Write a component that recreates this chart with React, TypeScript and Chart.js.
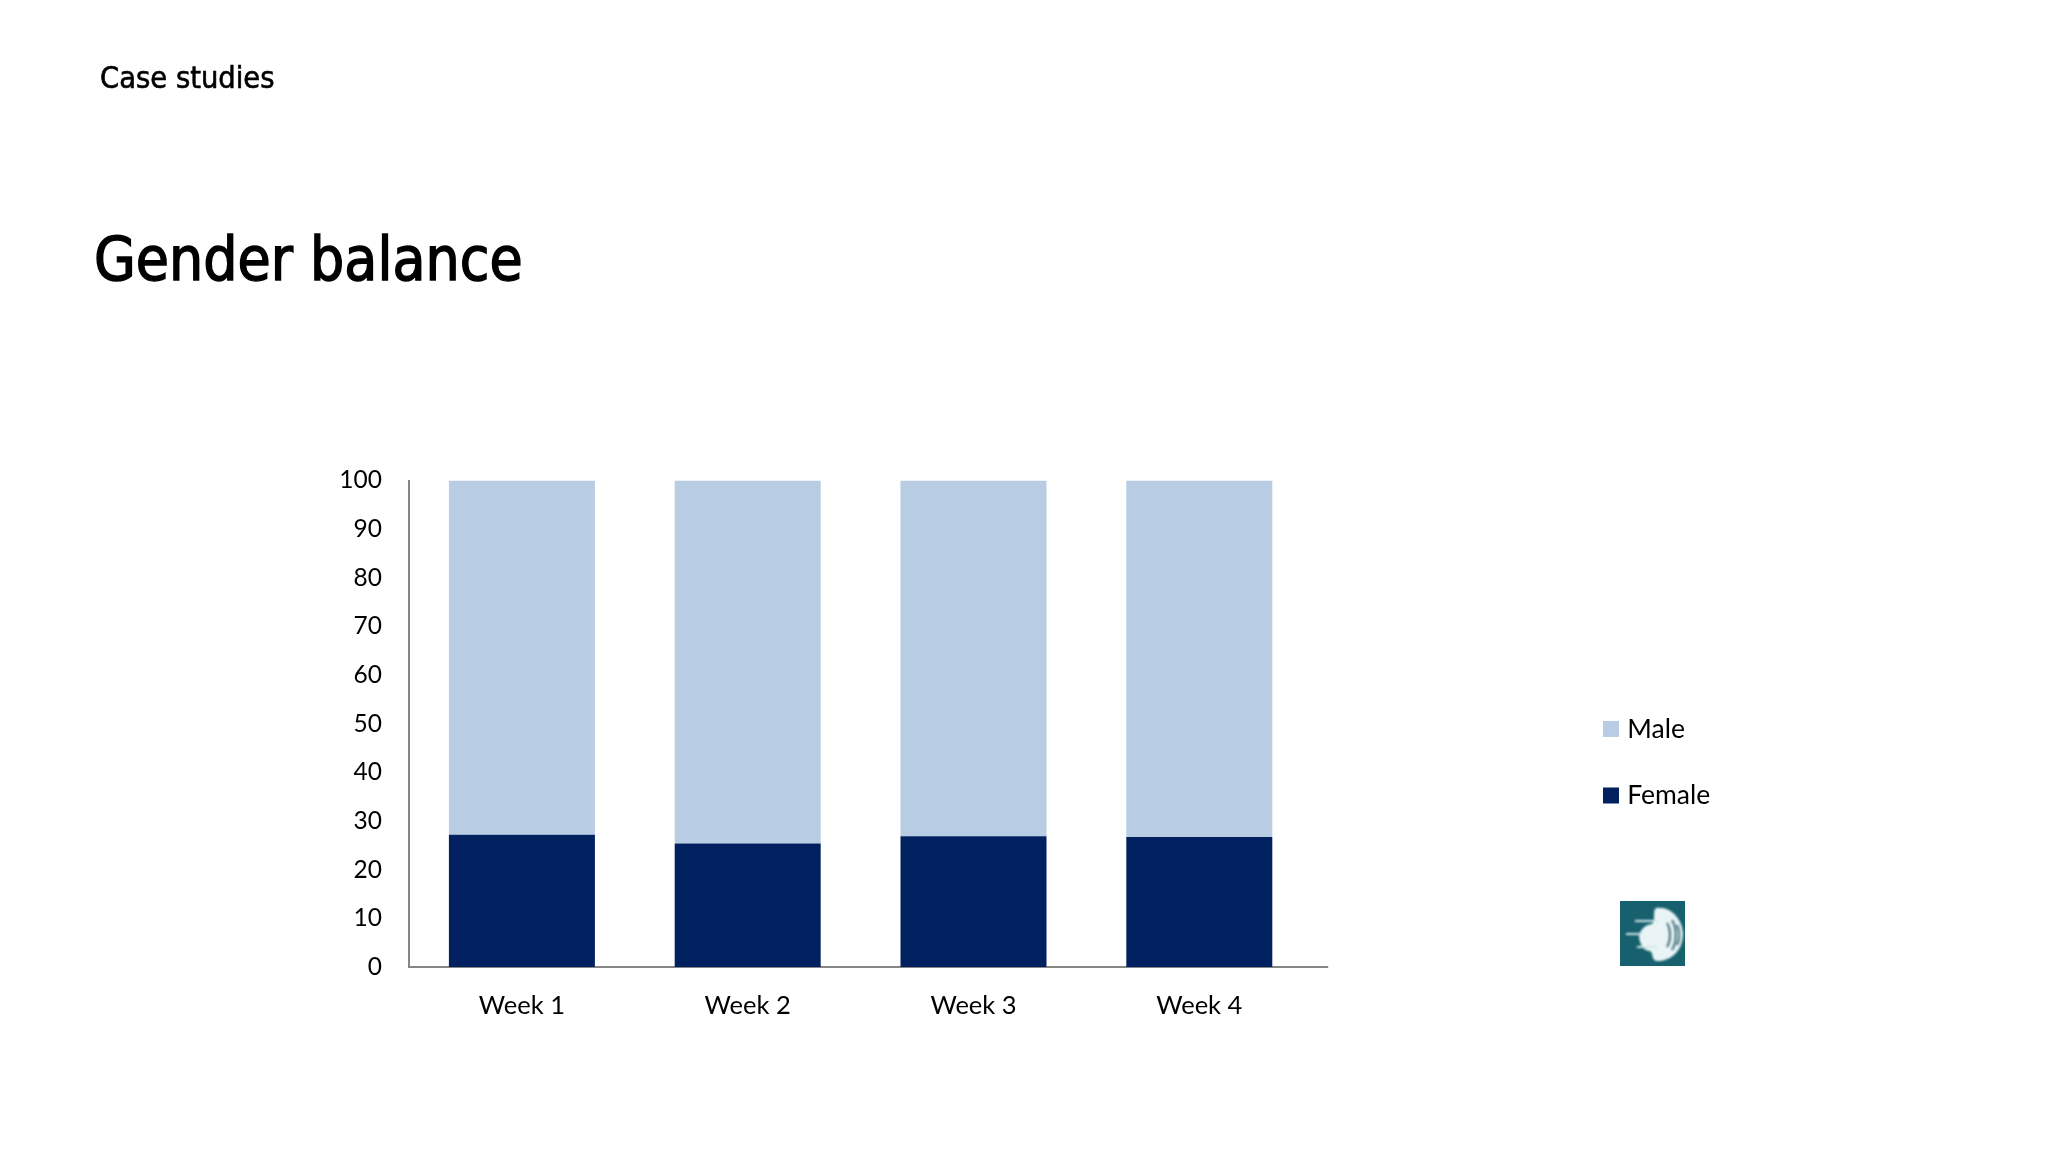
import { useEffect, useRef } from "react";
import { Chart, registerables } from "chart.js";

Chart.register(...registerables);

const weeks = ["Week 1", "Week 2", "Week 3", "Week 4"];
const female = [27.2, 25.4, 26.9, 26.7];
const male = [72.8, 74.6, 73.1, 73.3];

const AXIS_GREY = "#868686";
const LEGEND_PADDING = 40;

// The x axis line runs a little past the last category in the original
const axisTail = {
  id: "axisTail",
  afterDraw(chart: Chart) {
    const { ctx, chartArea } = chart;
    ctx.save();
    ctx.strokeStyle = AXIS_GREY;
    ctx.lineWidth = 2;
    ctx.beginPath();
    ctx.moveTo(chartArea.right - 1, chartArea.bottom);
    ctx.lineTo(chartArea.right + 16, chartArea.bottom);
    ctx.stroke();
    ctx.restore();
  },
};

// Legend sits far off to the right of the plot, so move it there after layout
const legendPlacer = {
  id: "legendPlacer",
  afterLayout(chart: any) {
    const legend = chart.legend;
    legend.left = 1608 - LEGEND_PADDING;
    legend.right = 1900;
    legend.top = 715.75 - LEGEND_PADDING;
    legend.bottom = 850;
  },
};

const headingStyle: React.CSSProperties = {
  position: "absolute",
  fontFamily: "'DejaVu Sans Condensed', 'DejaVu Sans'",
  fontStretch: "condensed",
  color: "#000",
  whiteSpace: "nowrap",
  lineHeight: 1,
};

const GenderChart = () => {
  const canvasRef = useRef<HTMLCanvasElement>(null);

  useEffect(() => {
    if (!canvasRef.current) return;

    const chart = new Chart(canvasRef.current, {
      type: "bar",
      data: {
        labels: weeks,
        datasets: [
          { label: "Female", data: female, backgroundColor: "#002060" },
          { label: "Male", data: male, backgroundColor: "#B8CCE4" },
        ],
      },
      options: {
        responsive: false,
        animation: false,
        layout: { padding: { left: 300, right: 735.8, top: 480.5, bottom: 125 } },
        datasets: { bar: { categoryPercentage: 1, barPercentage: 0.6466 } },
        plugins: {
          title: { display: false },
          tooltip: { enabled: false },
          legend: {
            position: "chartArea",
            align: "start",
            reverse: true,
            labels: {
              // small box with a thick border of the same colour, keeps the text close to it
              boxWidth: 6,
              boxHeight: 6,
              padding: LEGEND_PADDING,
              color: "#000",
              font: { family: "Lato", size: 26.5 },
              generateLabels: (c) =>
                Chart.defaults.plugins.legend.labels
                  .generateLabels(c)
                  .map((item) => ({ ...item, lineWidth: 10, strokeStyle: item.fillStyle })),
            },
          },
        },
        scales: {
          x: {
            stacked: true,
            grid: { display: false, drawTicks: false },
            border: { color: AXIS_GREY, width: 2 },
            ticks: { color: "#000", font: { family: "Lato", size: 25.5 }, padding: 23 },
            afterFit: (scale) => {
              scale.height = 60;
            },
          },
          y: {
            stacked: true,
            min: 0,
            max: 100,
            grid: { display: false, drawTicks: false },
            border: { color: AXIS_GREY, width: 2 },
            ticks: { color: "#000", font: { family: "Lato", size: 24.5 }, stepSize: 10, padding: 27 },
            afterFit: (scale) => {
              scale.width = 109;
            },
          },
        },
      },
      plugins: [axisTail, legendPlacer],
    });

    return () => chart.destroy();
  }, []);

  return <canvas ref={canvasRef} width={2048} height={1152} style={{ display: "block" }} />;
};

// Small teal logo under the legend
const Logo = () => (
  <svg
    width={65}
    height={65}
    viewBox="0 0 65 65"
    style={{ position: "absolute", left: 1620, top: 901 }}
  >
    <rect width={65} height={65} fill="#17616E" />
    <g style={{ filter: "blur(0.8px)" }}>
      <path
        d="M36 7 C52 5 63 20 63 33 C63 48 52 61 36 60 C31 58 34 53 30 50 C24 50 20 44 19 36 C20 28 25 24 32 23 C36 20 32 10 36 7 Z"
        fill="#EAF4F6"
      />
      <path
        d="M47 22 C51 28 51 40 47 46 M52 19 C57 27 57 41 52 49 M57 24 C60 30 60 38 57 44"
        fill="none"
        stroke="#4A7781"
        strokeWidth={2.2}
      />
      <path
        d="M15 20 H38 M6 33 H22 M17 46 H38"
        fill="none"
        stroke="#D5E8EB"
        strokeWidth={2}
      />
    </g>
  </svg>
);

export default function App() {
  return (
    <div style={{ position: "absolute", left: 0, top: 0, width: 2048, height: 1152, background: "#fff", overflow: "hidden" }}>
      <GenderChart />
      <div style={{ ...headingStyle, left: 100, top: 63, fontSize: 30.5, WebkitTextStroke: "0.6px #000" }}>Case studies</div>
      <div style={{ ...headingStyle, left: 94, top: 229, fontSize: 60, WebkitTextStroke: "1.4px #000" }}>Gender balance</div>
      <Logo />
    </div>
  );
}
